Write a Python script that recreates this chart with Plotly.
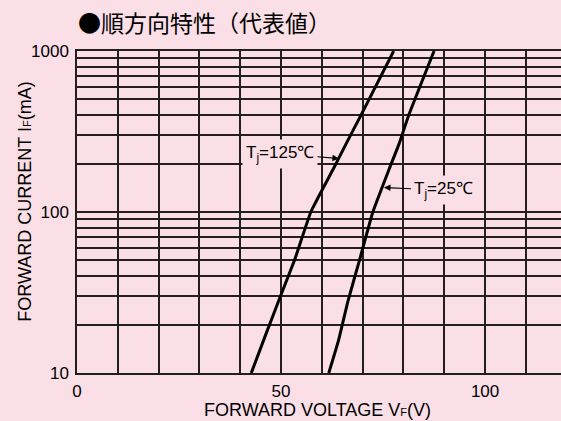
import plotly.graph_objects as go

# ---- data ----
vf_125 = [42.7, 46.5, 49.4, 53.4, 57.3, 62.8, 65.9, 69.6, 77.6]
if_125 = [10, 18, 28, 51, 100, 185, 264, 400, 1000]

vf_25 = [61.7, 64.1, 66.4, 69.3, 72.5, 76.5, 78.9, 81.3, 87.5]
if_25 = [10, 16, 28, 51, 100, 185, 264, 400, 1000]

x_tickvals = [0, 50, 100]
x_ticktext = ["0", "50", "100"]
x_minor = [10, 20, 30, 40, 60, 70, 80, 90, 110]
y_tickvals = [10, 100, 1000]
y_ticktext = ["10", "100", "1000"]
y_minor = [20, 30, 40, 50, 60, 70, 80, 90, 200, 300, 400, 500, 600, 700, 800, 900]

title_text = "●順方向特性（代表値）"
x_title = "FORWARD VOLTAGE V<span style='font-size:11px'>F</span>(V)"
y_title = "FORWARD CURRENT I<span style='font-size:11px'>F</span>(mA)"
label_125 = "T<sub>j</sub>=125℃"
label_25 = "T<sub>j</sub>=25℃"

BG = "#fbdfe7"
GRID = "#231f20"
FONT = "Liberation Sans, Arial, sans-serif"

fig = go.Figure()
for vx, iy in ((vf_125, if_125), (vf_25, if_25)):
    fig.add_trace(go.Scatter(x=vx, y=iy, mode="lines",
                             line=dict(color="black", width=3, shape="spline", smoothing=0.4),
                             showlegend=False, hoverinfo="skip"))

fig.update_layout(
    width=561, height=421,
    margin=dict(l=77, r=0, t=51, b=48),
    paper_bgcolor=BG, plot_bgcolor=BG,
    font=dict(family=FONT, size=17, color="black"),
    showlegend=False,
)
fig.update_xaxes(
    range=[0, 118.6], tickmode="array", tickvals=x_tickvals, ticktext=x_ticktext,
    showgrid=True, gridcolor=GRID, gridwidth=1.5,
    minor=dict(tickmode="array", tickvals=x_minor, showgrid=True, gridcolor=GRID, gridwidth=1.5, ticks=""),
    showline=True, linecolor=GRID, linewidth=1.5, mirror=True,
    ticks="", zeroline=False, ticklabelstandoff=2,
    tickfont=dict(family=FONT, size=17, color="black"),
)
fig.update_yaxes(
    type="log", range=[1, 3], tickmode="array", tickvals=y_tickvals, ticktext=y_ticktext,
    showgrid=True, gridcolor=GRID, gridwidth=1.5,
    minor=dict(tickmode="array", tickvals=y_minor, showgrid=True, gridcolor=GRID, gridwidth=1.5, ticks=""),
    showline=True, linecolor=GRID, linewidth=1.5, mirror=False,
    ticks="", zeroline=False, ticklabelstandoff=3,
    tickfont=dict(family=FONT, size=17, color="black"),
)

annotations = [
    dict(text=title_text, xref="paper", yref="paper", x=-0.002, y=1.09,
         xanchor="left", yanchor="middle", showarrow=False,
         font=dict(family="Noto Sans CJK JP", size=23, color="black")),
    dict(text=x_title, xref="paper", yref="paper", x=0.496, y=-0.114,
         xanchor="center", yanchor="middle", showarrow=False,
         font=dict(family=FONT, size=18, color="black")),
    dict(text=y_title, xref="paper", yref="paper", x=-0.108, y=0.531,
         xanchor="center", yanchor="middle", showarrow=False, textangle=-90,
         font=dict(family=FONT, size=18, color="black")),
    dict(text=label_125, x=64.2, y=2.332, xref="x", yref="y",
         ax=-59, ay=-5, showarrow=True, arrowhead=2, arrowsize=1.1, arrowwidth=1.2,
         arrowcolor="black", bgcolor=BG, borderpad=3,
         font=dict(family=FONT, size=17, color="black")),
    dict(text=label_25, x=75.2, y=2.152, xref="x", yref="y",
         ax=60, ay=2.7, showarrow=True, arrowhead=2, arrowsize=1.1, arrowwidth=1.2,
         arrowcolor="black", bgcolor=BG, borderpad=3,
         font=dict(family=FONT, size=17, color="black")),
]
fig.update_layout(annotations=annotations)

fig.write_html("out.html", config={"displayModeBar": False},
               post_script="document.body.style.margin='0';document.body.style.background='" + BG + "';")
